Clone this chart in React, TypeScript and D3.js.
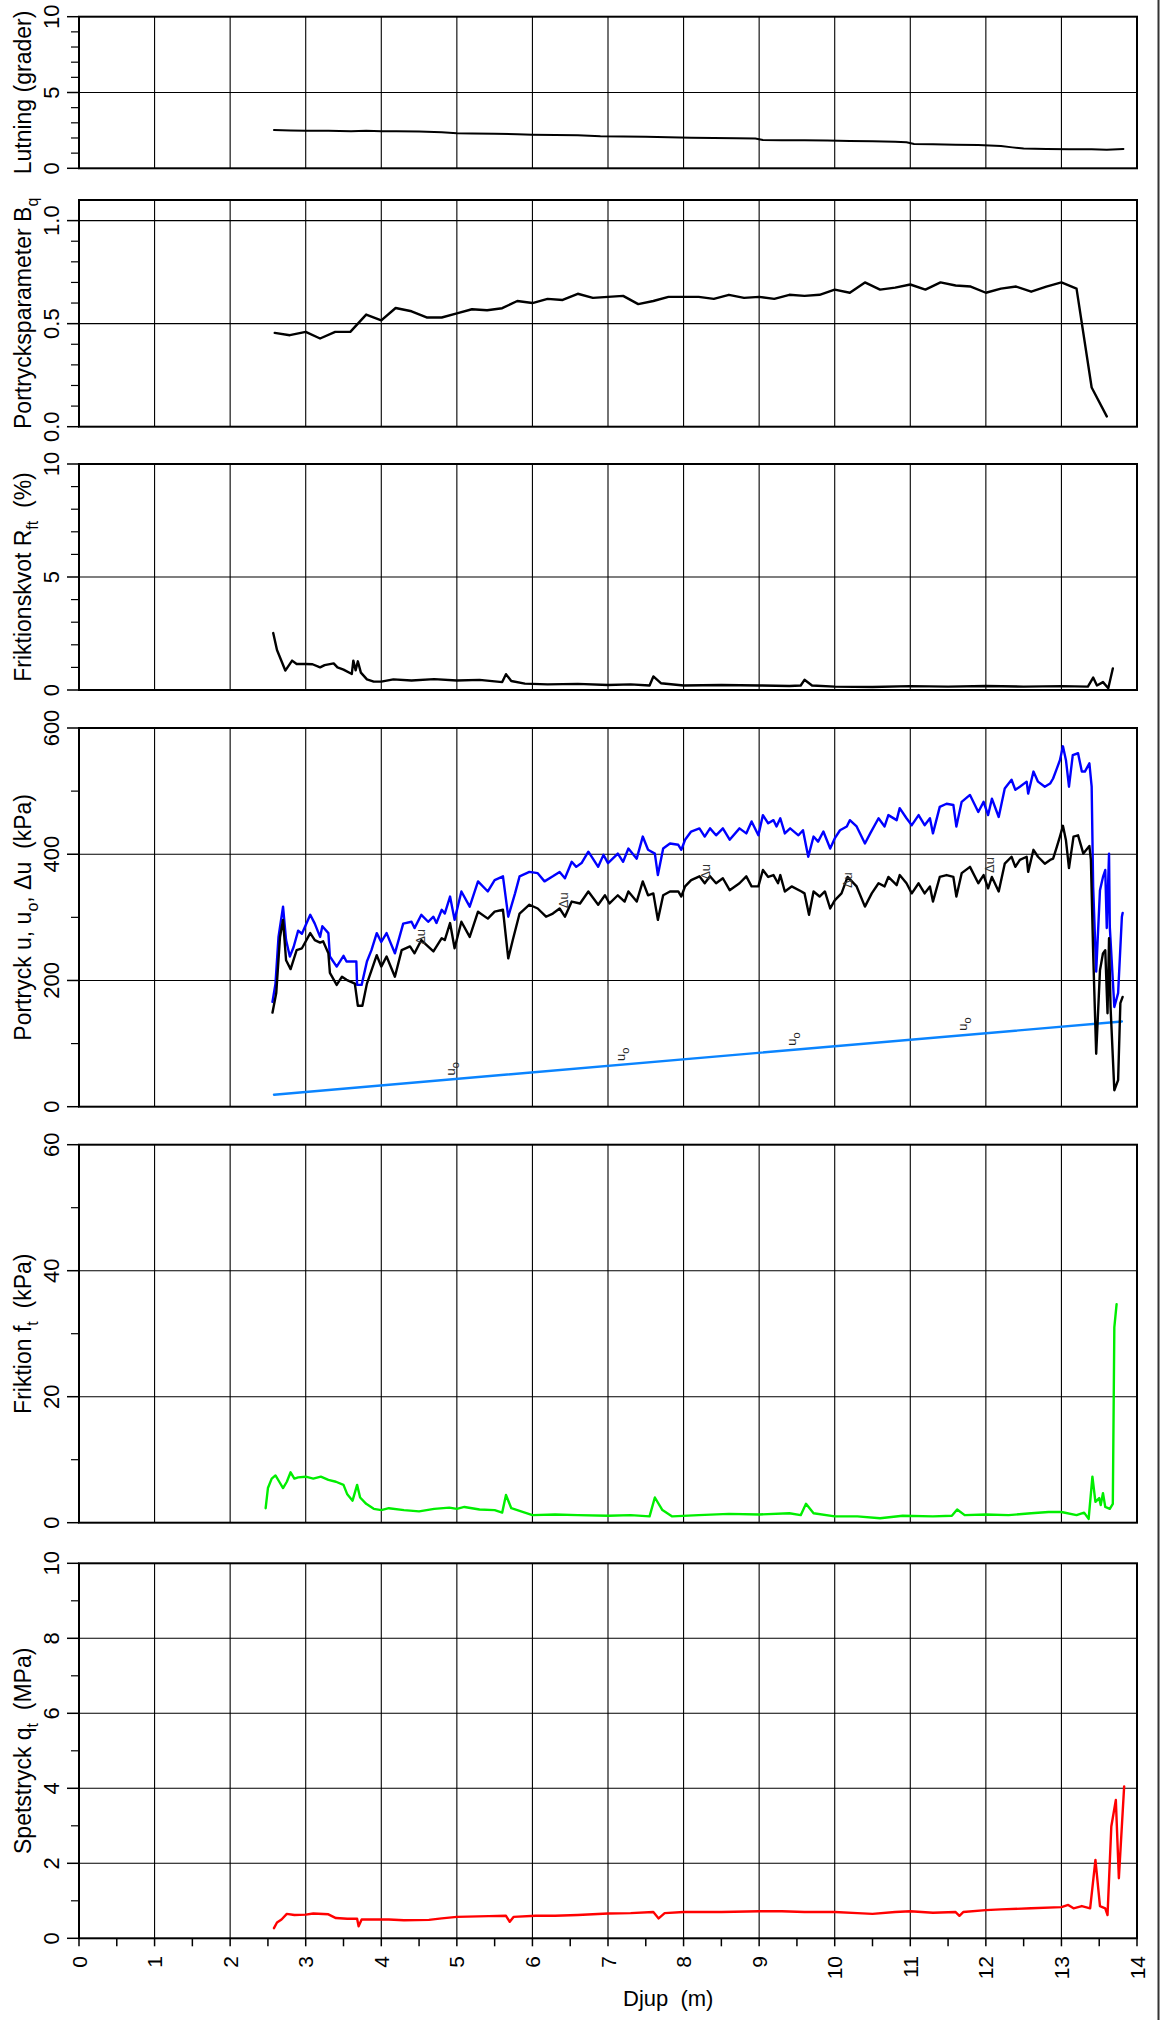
import React from 'react';
import * as d3 from 'd3';

type Pt = [number, number];

// depth axis
const depthLabels = [0, 1, 2, 3, 4, 5, 6, 7, 8, 9, 10, 11, 12, 13, 14];

// Lutning (grader)
const lutning: Pt[] = [
  [2.58, 2.52], [2.8, 2.5], [3.0, 2.48], [3.3, 2.47], [3.6, 2.45], [3.8, 2.48], [4.0, 2.45], [4.2, 2.44],
  [4.5, 2.42], [4.8, 2.38], [5.0, 2.32], [5.2, 2.3], [5.5, 2.28], [5.8, 2.25], [6.0, 2.22], [6.3, 2.2],
  [6.6, 2.18], [6.9, 2.12], [7.2, 2.1], [7.5, 2.08], [7.8, 2.04], [8.1, 2.02], [8.4, 2.0], [8.7, 1.98],
  [8.95, 1.96], [9.05, 1.86], [9.3, 1.85], [9.6, 1.85], [9.9, 1.83], [10.2, 1.8], [10.5, 1.78], [10.8, 1.75],
  [10.95, 1.72], [11.05, 1.6], [11.3, 1.58], [11.6, 1.55], [11.9, 1.53], [12.2, 1.47], [12.35, 1.38],
  [12.5, 1.3], [12.8, 1.28], [13.1, 1.26], [13.4, 1.25], [13.6, 1.22], [13.82, 1.28],
];

// Portrycksparameter Bq
const bq: Pt[] = [
  [2.59, 0.455], [2.79, 0.444], [3.0, 0.46], [3.19, 0.428], [3.39, 0.46], [3.59, 0.46], [3.8, 0.544],
  [4.0, 0.516], [4.19, 0.576], [4.4, 0.56], [4.6, 0.53], [4.8, 0.53], [5.0, 0.55], [5.2, 0.57], [5.4, 0.565],
  [5.6, 0.575], [5.8, 0.61], [6.0, 0.6], [6.2, 0.62], [6.4, 0.615], [6.6, 0.645], [6.8, 0.625], [7.0, 0.63],
  [7.2, 0.635], [7.4, 0.595], [7.6, 0.61], [7.8, 0.63], [8.0, 0.63], [8.2, 0.63], [8.4, 0.62], [8.6, 0.64],
  [8.8, 0.625], [9.0, 0.63], [9.2, 0.62], [9.4, 0.64], [9.6, 0.635], [9.8, 0.64], [10.0, 0.665], [10.2, 0.65],
  [10.4, 0.7], [10.6, 0.665], [10.8, 0.675], [11.0, 0.69], [11.2, 0.665], [11.4, 0.7], [11.6, 0.685],
  [11.8, 0.68], [12.0, 0.65], [12.2, 0.67], [12.4, 0.68], [12.6, 0.655], [12.8, 0.68], [13.0, 0.7],
  [13.2, 0.67], [13.4, 0.19], [13.6, 0.05],
];

// Friktionskvot Rft (%)
const rft: Pt[] = [
  [2.57, 2.52], [2.62, 1.77], [2.73, 0.86], [2.82, 1.3], [2.88, 1.15], [3.0, 1.15], [3.09, 1.14], [3.19, 1.0],
  [3.25, 1.1], [3.37, 1.18], [3.42, 1.0], [3.5, 0.9], [3.61, 0.71], [3.63, 1.3], [3.66, 0.87], [3.69, 1.27],
  [3.73, 0.77], [3.81, 0.47], [3.9, 0.37], [4.0, 0.37], [4.16, 0.47], [4.4, 0.42], [4.7, 0.48], [5.0, 0.42],
  [5.3, 0.45], [5.6, 0.35], [5.65, 0.7], [5.72, 0.4], [5.9, 0.28], [6.2, 0.25], [6.6, 0.27], [7.0, 0.22],
  [7.3, 0.25], [7.55, 0.2], [7.6, 0.6], [7.7, 0.3], [8.0, 0.2], [8.5, 0.22], [9.0, 0.2], [9.4, 0.18],
  [9.55, 0.2], [9.6, 0.45], [9.7, 0.2], [10.0, 0.15], [10.5, 0.13], [11.0, 0.17], [11.5, 0.15], [12.0, 0.18],
  [12.5, 0.15], [13.0, 0.17], [13.35, 0.15], [13.42, 0.55], [13.47, 0.2], [13.55, 0.35], [13.62, 0.08],
  [13.68, 0.95],
];

// Portryck u (kPa)
const uTotal: Pt[] = [
  [2.56, 166], [2.6, 195], [2.64, 269], [2.7, 317], [2.74, 264], [2.79, 238], [2.84, 253], [2.9, 279],
  [2.95, 274], [3.06, 304], [3.12, 290], [3.19, 269], [3.22, 286], [3.3, 275], [3.32, 238], [3.41, 222],
  [3.5, 239], [3.54, 230], [3.67, 230], [3.68, 193], [3.74, 193], [3.81, 230], [3.87, 248], [3.94, 275],
  [4.0, 261], [4.07, 275], [4.18, 243], [4.29, 290], [4.4, 293], [4.44, 283], [4.53, 304], [4.62, 293],
  [4.69, 301], [4.73, 291], [4.8, 312], [4.84, 306], [4.91, 333], [4.97, 296], [5.06, 341], [5.17, 317],
  [5.28, 357], [5.41, 341], [5.5, 359], [5.61, 365], [5.68, 301], [5.77, 338], [5.83, 365], [5.96, 372],
  [6.07, 370], [6.16, 357], [6.27, 365], [6.36, 372], [6.43, 362], [6.52, 388], [6.58, 380], [6.65, 386],
  [6.74, 404], [6.8, 393], [6.87, 380], [6.94, 399], [7.0, 386], [7.13, 401], [7.2, 388], [7.27, 409],
  [7.38, 393], [7.46, 428], [7.53, 407], [7.62, 401], [7.66, 367], [7.73, 409], [7.82, 417], [7.93, 415],
  [7.97, 407], [8.02, 423], [8.1, 436], [8.21, 441], [8.28, 428], [8.35, 441], [8.43, 430], [8.52, 441],
  [8.61, 423], [8.74, 441], [8.83, 433], [8.9, 452], [8.99, 430], [9.05, 462], [9.12, 449], [9.19, 454],
  [9.23, 444], [9.28, 457], [9.34, 433], [9.41, 441], [9.52, 430], [9.58, 438], [9.65, 396], [9.72, 428],
  [9.78, 420], [9.85, 436], [9.94, 409], [10.0, 425], [10.07, 438], [10.16, 444], [10.2, 454], [10.29, 444],
  [10.4, 417], [10.47, 433], [10.58, 457], [10.66, 444], [10.71, 462], [10.82, 454], [10.86, 473],
  [10.95, 457], [11.02, 446], [11.11, 462], [11.19, 446], [11.26, 457], [11.3, 433], [11.39, 475],
  [11.48, 480], [11.57, 478], [11.61, 444], [11.68, 483], [11.79, 494], [11.9, 467], [11.97, 483],
  [12.03, 462], [12.08, 488], [12.17, 459], [12.25, 504], [12.34, 518], [12.39, 502], [12.45, 507],
  [12.54, 515], [12.56, 496], [12.63, 531], [12.69, 515], [12.78, 507], [12.85, 512], [12.89, 520],
  [12.94, 536], [12.98, 549], [13.02, 571], [13.06, 549], [13.1, 507], [13.15, 557], [13.22, 560],
  [13.27, 531], [13.31, 531], [13.37, 544], [13.4, 507], [13.42, 348], [13.46, 214], [13.51, 343],
  [13.55, 364], [13.58, 375], [13.6, 283], [13.63, 401], [13.64, 285], [13.7, 158], [13.75, 180],
  [13.8, 301], [13.81, 307],
];

// Δu (kPa)
const uExcess: Pt[] = [
  [2.56, 149], [2.61, 180], [2.66, 269], [2.7, 296], [2.74, 232], [2.8, 218], [2.88, 248], [2.95, 251],
  [3.06, 275], [3.12, 264], [3.19, 260], [3.23, 262], [3.3, 243], [3.32, 212], [3.41, 193], [3.48, 206],
  [3.54, 201], [3.65, 195], [3.69, 160], [3.75, 160], [3.81, 195], [3.94, 240], [4.0, 222], [4.07, 238],
  [4.18, 206], [4.27, 248], [4.38, 254], [4.44, 243], [4.53, 264], [4.6, 256], [4.69, 246], [4.8, 267],
  [4.84, 264], [4.91, 291], [4.97, 251], [5.06, 293], [5.17, 269], [5.28, 309], [5.41, 298], [5.5, 309],
  [5.61, 312], [5.68, 235], [5.74, 264], [5.83, 306], [5.96, 320], [6.07, 314], [6.18, 301], [6.27, 306],
  [6.36, 314], [6.43, 301], [6.52, 325], [6.63, 322], [6.74, 341], [6.87, 320], [6.96, 335], [7.02, 322],
  [7.13, 335], [7.22, 325], [7.27, 341], [7.38, 325], [7.46, 357], [7.53, 335], [7.6, 338], [7.66, 296],
  [7.73, 335], [7.82, 341], [7.93, 341], [7.97, 333], [8.02, 349], [8.1, 359], [8.21, 365], [8.28, 354],
  [8.35, 365], [8.43, 354], [8.52, 362], [8.61, 343], [8.74, 354], [8.83, 365], [8.9, 349], [8.99, 349],
  [9.05, 375], [9.12, 364], [9.19, 367], [9.25, 354], [9.28, 367], [9.34, 341], [9.43, 349], [9.56, 341],
  [9.6, 338], [9.66, 304], [9.72, 341], [9.8, 333], [9.87, 341], [9.94, 314], [10.0, 327], [10.09, 338],
  [10.17, 364], [10.29, 349], [10.4, 317], [10.49, 338], [10.58, 354], [10.66, 349], [10.71, 364],
  [10.82, 351], [10.86, 367], [10.95, 354], [11.02, 338], [11.11, 354], [11.19, 338], [11.26, 349],
  [11.3, 325], [11.39, 364], [11.48, 367], [11.57, 364], [11.61, 333], [11.68, 370], [11.79, 380],
  [11.9, 354], [11.97, 367], [12.03, 346], [12.08, 364], [12.17, 341], [12.25, 385], [12.34, 396],
  [12.39, 380], [12.45, 391], [12.54, 396], [12.56, 372], [12.63, 407], [12.69, 396], [12.78, 385],
  [12.85, 391], [12.89, 393], [12.94, 412], [12.98, 428], [13.02, 445], [13.06, 422], [13.1, 378],
  [13.16, 428], [13.22, 430], [13.29, 401], [13.37, 413], [13.39, 391], [13.42, 243], [13.46, 84],
  [13.51, 216], [13.55, 243], [13.58, 248], [13.61, 148], [13.63, 267], [13.65, 158], [13.7, 26],
  [13.75, 42], [13.78, 164], [13.81, 174],
];

// u0 (kPa)
const uHydro: Pt[] = [[2.58, 19], [13.8, 135]];

// curve labels (depth, kPa)
const duLabels: Pt[] = [[4.52, 269], [6.42, 327], [8.3, 372], [10.18, 359], [12.06, 383]];
const u0Labels: Pt[] = [[4.92, 60], [7.17, 83], [9.43, 107], [11.7, 131]];

// Friktion ft (kPa)
const ft: Pt[] = [
  [2.47, 2.3], [2.5, 5.5], [2.55, 7], [2.6, 7.5], [2.65, 6.5], [2.7, 5.5], [2.75, 6.5], [2.8, 8], [2.85, 7],
  [2.9, 7.2], [3.0, 7.3], [3.1, 7.0], [3.2, 7.3], [3.3, 6.8], [3.4, 6.5], [3.5, 6.0], [3.55, 4.5], [3.62, 3.5],
  [3.68, 6.0], [3.72, 4.0], [3.8, 3.0], [3.9, 2.2], [4.0, 2.0], [4.1, 2.3], [4.3, 2.0], [4.5, 1.8], [4.7, 2.2],
  [4.9, 2.4], [5.0, 2.2], [5.1, 2.5], [5.3, 2.1], [5.5, 2.0], [5.6, 1.6], [5.65, 4.4], [5.72, 2.3], [5.85, 1.8],
  [6.0, 1.2], [6.3, 1.3], [6.6, 1.2], [7.0, 1.1], [7.3, 1.2], [7.55, 1.0], [7.62, 4.0], [7.72, 2.0],
  [7.85, 1.0], [8.2, 1.2], [8.6, 1.4], [9.0, 1.3], [9.4, 1.5], [9.55, 1.2], [9.62, 3.0], [9.72, 1.5],
  [10.0, 1.0], [10.3, 1.0], [10.6, 0.7], [10.9, 1.1], [11.3, 1.0], [11.55, 1.1], [11.62, 2.1], [11.72, 1.2],
  [12.0, 1.3], [12.3, 1.2], [12.6, 1.5], [12.83, 1.7], [13.0, 1.7], [13.2, 1.2], [13.3, 1.6], [13.36, 0.6],
  [13.41, 7.3], [13.45, 3.3], [13.5, 3.9], [13.52, 2.8], [13.55, 4.7], [13.58, 2.5], [13.64, 2.2],
  [13.68, 3.0], [13.7, 31], [13.73, 34.7],
];

// Spetstryck qt (MPa)
const qt: Pt[] = [
  [2.58, 0.27], [2.62, 0.42], [2.68, 0.5], [2.75, 0.65], [2.85, 0.62], [3.0, 0.63], [3.1, 0.66], [3.3, 0.64],
  [3.4, 0.54], [3.55, 0.52], [3.68, 0.52], [3.7, 0.32], [3.74, 0.5], [3.9, 0.5], [4.1, 0.5], [4.3, 0.48],
  [4.63, 0.49], [4.8, 0.53], [5.0, 0.57], [5.42, 0.59], [5.65, 0.6], [5.7, 0.44], [5.75, 0.57], [6.04, 0.6],
  [6.3, 0.6], [6.6, 0.62], [7.0, 0.66], [7.3, 0.67], [7.6, 0.7], [7.67, 0.53], [7.75, 0.67], [8.0, 0.7],
  [8.5, 0.7], [9.0, 0.72], [9.3, 0.72], [9.6, 0.7], [10.0, 0.7], [10.3, 0.67], [10.5, 0.65], [10.8, 0.7],
  [11.0, 0.72], [11.3, 0.68], [11.6, 0.7], [11.65, 0.6], [11.7, 0.7], [12.0, 0.75], [12.2, 0.77],
  [12.6, 0.8], [13.0, 0.83], [13.09, 0.89], [13.16, 0.8], [13.27, 0.86], [13.38, 0.8], [13.45, 2.09],
  [13.51, 0.86], [13.58, 0.8], [13.61, 0.62], [13.66, 2.98], [13.72, 3.69], [13.76, 1.6], [13.83, 4.05],
];

const FONT = '"Liberation Sans", Arial, Helvetica, sans-serif';
const X0 = 79;
const X1 = 1137;
const x = d3.scaleLinear().domain([0, 14]).range([X0, X1]);

type Seg = { t: string; sub?: boolean };
type Series = { data: Pt[]; color: string; width: number };
type Panel = {
  top: number;
  bottom: number;
  domain: [number, number];
  major: number[];
  minor: number[];
  grid: number[];
  fmt: (v: number) => string;
  title: Seg[];
  series: Series[];
};

const panels: Panel[] = [
  {
    top: 16.7, bottom: 168.3, domain: [0, 10], major: [0, 5, 10], minor: [1, 2, 3, 4, 6, 7, 8, 9], grid: [5],
    fmt: String, title: [{ t: 'Lutning (grader)' }],
    series: [{ data: lutning, color: '#000', width: 2 }],
  },
  {
    top: 200, bottom: 426.7, domain: [0, 1.1], major: [0, 0.5, 1.0], minor: [0.1, 0.2, 0.3, 0.4, 0.6, 0.7, 0.8, 0.9],
    grid: [0.5, 1.0], fmt: d3.format('.1f'), title: [{ t: 'Portrycksparameter B' }, { t: 'q', sub: true }],
    series: [{ data: bq, color: '#000', width: 2.4 }],
  },
  {
    top: 464, bottom: 690, domain: [0, 10], major: [0, 5, 10], minor: [1, 2, 3, 4, 6, 7, 8, 9], grid: [5],
    fmt: String, title: [{ t: 'Friktionskvot R' }, { t: 'ft', sub: true }, { t: '\u00a0\u00a0(%)' }],
    series: [{ data: rft, color: '#000', width: 2.4 }],
  },
  {
    top: 728, bottom: 1106.7, domain: [0, 600], major: [0, 200, 400, 600], minor: [100, 300, 500], grid: [200, 400],
    fmt: String, title: [{ t: 'Portryck u, u' }, { t: 'o', sub: true }, { t: ', \u0394u\u00a0\u00a0(kPa)' }],
    series: [
      { data: uHydro, color: '#0a84ff', width: 2.4 },
      { data: uTotal, color: '#0000ff', width: 2.4 },
      { data: uExcess, color: '#000', width: 2.4 },
    ],
  },
  {
    top: 1144.7, bottom: 1522.7, domain: [0, 60], major: [0, 20, 40, 60], minor: [10, 30, 50], grid: [20, 40],
    fmt: String, title: [{ t: 'Friktion f' }, { t: 't', sub: true }, { t: '\u00a0\u00a0(kPa)' }],
    series: [{ data: ft, color: '#00ee00', width: 2.4 }],
  },
  {
    top: 1563.3, bottom: 1938.3, domain: [0, 10], major: [0, 2, 4, 6, 8, 10], minor: [1, 3, 5, 7, 9], grid: [2, 4, 6, 8],
    fmt: String, title: [{ t: 'Spetstryck q' }, { t: 't', sub: true }, { t: '\u00a0\u00a0(MPa)' }],
    series: [{ data: qt, color: '#ff0000', width: 2.4 }],
  },
];

const Title = ({ segs }: { segs: Seg[] }) => (
  <>
    {segs.map((s, i) => {
      const prevSub = i > 0 && segs[i - 1].sub;
      const dy = s.sub ? 7 : prevSub ? -7 : 0;
      return (
        <tspan key={i} dy={dy} fontSize={s.sub ? 16 : undefined}>{s.t}</tspan>
      );
    })}
  </>
);

const PanelView = ({ p, last }: { p: Panel; last: boolean }) => {
  const y = d3.scaleLinear().domain(p.domain).range([p.bottom, p.top]);
  const line = d3.line<Pt>().x(d => x(d[0])).y(d => y(d[1]));
  const cy = (p.top + p.bottom) / 2;
  return (
    <g>
      {d3.range(1, 14).map(d => (
        <line key={'v' + d} x1={x(d)} x2={x(d)} y1={p.top} y2={p.bottom} stroke="#000" strokeWidth={1.1} />
      ))}
      {p.grid.map(v => (
        <line key={'h' + v} x1={X0} x2={X1} y1={y(v)} y2={y(v)} stroke="#000" strokeWidth={1.1} />
      ))}
      {p.series.map((s, i) => (
        <path key={i} d={line(s.data) || ''} fill="none" stroke={s.color} strokeWidth={s.width}
          strokeLinejoin="round" strokeLinecap="round" />
      ))}
      <rect x={X0} y={p.top} width={X1 - X0} height={p.bottom - p.top} fill="none" stroke="#000" strokeWidth={2} />
      {p.major.map(v => (
        <g key={'M' + v}>
          <line x1={X0 - 12} x2={X0} y1={y(v)} y2={y(v)} stroke="#000" strokeWidth={1.5} />
          <text transform={`translate(59,${y(v)}) rotate(-90)`} textAnchor="middle" fontSize={22}>{p.fmt(v)}</text>
        </g>
      ))}
      {p.minor.map(v => (
        <line key={'m' + v} x1={X0 - 8} x2={X0} y1={y(v)} y2={y(v)} stroke="#000" strokeWidth={1.2} />
      ))}
      <text transform={`translate(31,${cy}) rotate(-90)`} textAnchor="middle" fontSize={23}>
        <Title segs={p.title} />
      </text>
      {p.series.length > 1 && (
        <g fontSize={13}>
          {duLabels.map(([d, v], i) => (
            <text key={'du' + i} transform={`translate(${x(d) + 4},${y(v)}) rotate(-90)`} textAnchor="middle" fill="#333">{'\u0394u'}</text>
          ))}
          {u0Labels.map(([d, v], i) => (
            <text key={'u0' + i} transform={`translate(${x(d) + 4},${y(v)}) rotate(-90)`} textAnchor="middle" fill="#222">
              u<tspan dy={4} fontSize={11}>o</tspan>
            </text>
          ))}
        </g>
      )}
      {last && (
        <g>
          {d3.range(0, 14.01, 0.5).map(d => (
            <line key={'t' + d} x1={x(d)} x2={x(d)} y1={p.bottom} y2={p.bottom + 8} stroke="#000" strokeWidth={1.5} />
          ))}
          {depthLabels.map(d => (
            <text key={'l' + d} transform={`translate(${x(d) + 7.5},1956) rotate(-90)`} textAnchor="end" fontSize={21}>{d}</text>
          ))}
          <text x={623} y={2006} fontSize={22}>{'Djup\u00a0\u00a0(m)'}</text>
        </g>
      )}
    </g>
  );
};

export default function App() {
  return (
    <svg width={1160} height={2020} style={{ position: 'absolute', left: 0, top: 0, background: '#fff' }}
      fontFamily={FONT}>
      <rect width={1160} height={2020} fill="#fff" />
      {panels.map((p, i) => (
        <PanelView key={i} p={p} last={i === panels.length - 1} />
      ))}
      <line x1={1158.5} x2={1158.5} y1={0} y2={2020} stroke="#333" strokeWidth={2} />
    </svg>
  );
}
